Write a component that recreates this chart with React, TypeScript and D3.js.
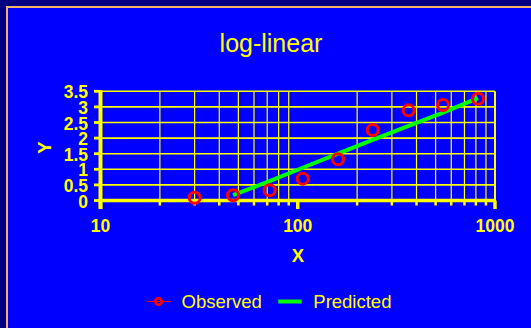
import React, { useRef, useEffect } from 'react'
import * as d3 from 'd3'

// values
const doses = [30, 47, 72, 106, 160, 240, 365, 545, 820]
const observed = [0.09, 0.17, 0.33, 0.7, 1.32, 2.26, 2.89, 3.06, 3.26]
const predictedX = [47, 72, 106, 160, 240, 365, 545, 820]
const predicted = [0.17, 0.62, 1.05, 1.5, 1.94, 2.39, 2.82, 3.28]
const yTicks = [0, 0.5, 1, 1.5, 2, 2.5, 3, 3.5]
const xMajor = [10, 100, 1000]
const xMinor = [20, 30, 40, 50, 60, 70, 80, 90, 200, 300, 400, 500, 600, 700, 800, 900]

const W = 531
const H = 328
const YELLOW = '#ffff00'
const BLUE = '#0000ff'
const FONT = 'Arial, "Liberation Sans", sans-serif'

export default function App() {
    const svgEl = useRef<SVGSVGElement>(null)

    useEffect(() => {
        if (!svgEl.current) return
        const svg = d3.select(svgEl.current)
        svg.selectAll('*').remove()

        // frame: navy strip with a tan rule, then the blue chart area
        svg.append('rect').attr('width', W).attr('height', H).attr('fill', '#000080')
        svg.append('rect').attr('x', 6).attr('y', 6).attr('width', W).attr('height', H).attr('fill', '#f0b468')
        svg.append('rect').attr('x', 8).attr('y', 8).attr('width', W).attr('height', H).attr('fill', BLUE)

        const x = d3.scaleLog().domain([10, 1000]).range([100.5, 495])
        const y = d3.scaleLinear().domain([0, 3.5]).range([200.5, 91.3])

        // grid
        const grid = svg.append('g')
        grid.selectAll('line.v')
            .data([...xMinor, 1000])
            .enter()
            .append('line')
            .attr('x1', d => x(d)).attr('x2', d => x(d))
            .attr('y1', y(3.5)).attr('y2', y(0))
            .attr('stroke', YELLOW)
            .attr('stroke-width', d => d === 1000 ? 2 : 1.2)
        grid.selectAll('line.h')
            .data(yTicks)
            .enter()
            .append('line')
            .attr('x1', x(10)).attr('x2', x(1000))
            .attr('y1', d => y(d)).attr('y2', d => y(d))
            .attr('stroke', YELLOW)
            .attr('stroke-width', 1.6)

        // x axis
        const xAxis = svg.append('g')
        xAxis.append('line')
            .attr('x1', x(10) - 2).attr('x2', x(1000) + 1)
            .attr('y1', y(0)).attr('y2', y(0))
            .attr('stroke', YELLOW).attr('stroke-width', 3.5)
        xAxis.selectAll('line.minor')
            .data(xMinor)
            .enter()
            .append('line')
            .attr('x1', d => x(d)).attr('x2', d => x(d))
            .attr('y1', y(0)).attr('y2', y(0) + 5)
            .attr('stroke', YELLOW).attr('stroke-width', 2.5)
        xAxis.selectAll('line.major')
            .data(xMajor)
            .enter()
            .append('line')
            .attr('x1', d => x(d)).attr('x2', d => x(d))
            .attr('y1', y(0)).attr('y2', y(0) + 8.5)
            .attr('stroke', YELLOW).attr('stroke-width', 3.5)
        xAxis.selectAll('text')
            .data(xMajor)
            .enter()
            .append('text')
            .attr('x', d => x(d))
            .attr('y', 232)
            .attr('text-anchor', 'middle')
            .attr('fill', YELLOW)
            .attr('font-family', FONT)
            .attr('font-weight', 'bold')
            .attr('font-size', 17.5)
            .text(d => String(d))

        // y axis
        const yAxis = svg.append('g')
        yAxis.append('line')
            .attr('x1', x(10)).attr('x2', x(10))
            .attr('y1', y(3.5) - 1).attr('y2', y(0) + 8.5)
            .attr('stroke', YELLOW).attr('stroke-width', 4)
        yAxis.selectAll('line.tick')
            .data(yTicks)
            .enter()
            .append('line')
            .attr('x1', x(10) - 6.5).attr('x2', x(10))
            .attr('y1', d => y(d)).attr('y2', d => y(d))
            .attr('stroke', YELLOW).attr('stroke-width', 2.8)
        yAxis.selectAll('text')
            .data(yTicks)
            .enter()
            .append('text')
            .attr('x', 88)
            .attr('y', d => y(d) + 7)
            .attr('text-anchor', 'end')
            .attr('fill', YELLOW)
            .attr('font-family', FONT)
            .attr('font-weight', 'bold')
            .attr('font-size', 17.5)
            .text(d => String(d))

        // titles
        svg.append('text')
            .attr('x', 271).attr('y', 51.5)
            .attr('text-anchor', 'middle')
            .attr('fill', YELLOW)
            .attr('font-family', FONT)
            .attr('font-size', 25)
            .text('log-linear')
        svg.append('text')
            .attr('x', 298).attr('y', 261.5)
            .attr('text-anchor', 'middle')
            .attr('fill', YELLOW)
            .attr('font-family', FONT)
            .attr('font-weight', 'bold')
            .attr('font-size', 18.5)
            .text('X')
        svg.append('text')
            .attr('transform', 'translate(50.5,147.7) rotate(-90)')
            .attr('text-anchor', 'middle')
            .attr('fill', YELLOW)
            .attr('font-family', FONT)
            .attr('font-weight', 'bold')
            .attr('font-size', 18.5)
            .text('Y')

        // predicted line
        const line = d3.line<number>()
            .x((_, i) => x(predictedX[i]))
            .y(d => y(d))
        svg.append('path')
            .datum(predicted)
            .attr('d', line)
            .attr('fill', 'none')
            .attr('stroke', '#00ff00')
            .attr('stroke-width', 4)

        // observed points
        svg.selectAll('circle.obs')
            .data(observed)
            .enter()
            .append('circle')
            .attr('cx', (_, i) => x(doses[i]))
            .attr('cy', d => y(d))
            .attr('r', 5.5)
            .attr('fill', 'none')
            .attr('stroke', '#ff0000')
            .attr('stroke-width', 3)

        // legend
        const lg = svg.append('g').attr('transform', 'translate(0,301.5)')
        lg.append('line')
            .attr('x1', 146.5).attr('x2', 171).attr('y1', 0).attr('y2', 0)
            .attr('stroke', '#ff0000').attr('stroke-width', 1)
        lg.append('circle')
            .attr('cx', 158.5).attr('cy', 0).attr('r', 3.3)
            .attr('fill', 'none').attr('stroke', '#ff0000').attr('stroke-width', 2.6)
        lg.append('text')
            .attr('x', 181.5).attr('y', 6.5)
            .attr('fill', YELLOW).attr('font-family', FONT).attr('font-size', 18.5)
            .text('Observed')
        lg.append('line')
            .attr('x1', 278.3).attr('x2', 301.7).attr('y1', 0).attr('y2', 0)
            .attr('stroke', '#00ff00').attr('stroke-width', 4)
        lg.append('text')
            .attr('x', 313.3).attr('y', 6.5)
            .attr('fill', YELLOW).attr('font-family', FONT).attr('font-size', 18.5)
            .text('Predicted')
    }, [svgEl.current])

    return (
        <div style={{ position: 'fixed', left: 0, top: 0 }}>
            <svg ref={svgEl} width={W} height={H} style={{ display: 'block' }} />
        </div>
    )
}
